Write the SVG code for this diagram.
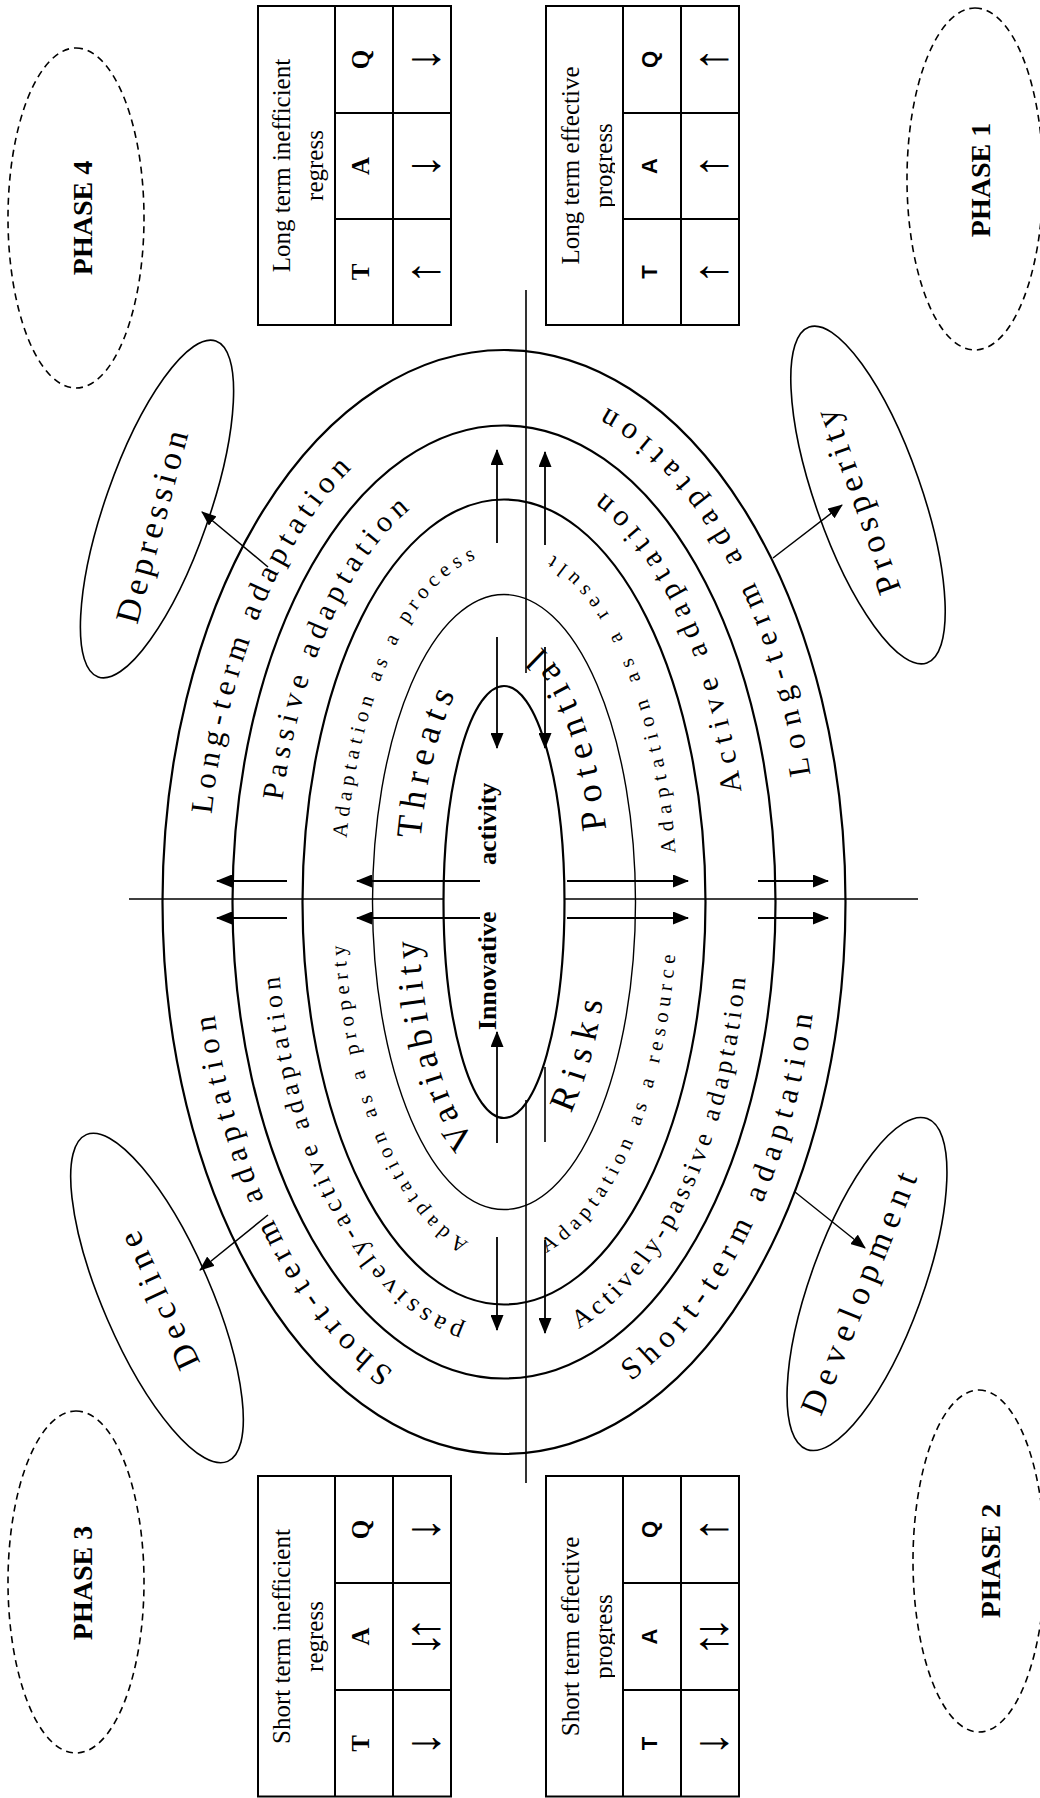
<svg xmlns="http://www.w3.org/2000/svg" width="1040" height="1798" viewBox="0 0 1040 1798">
<style>
.ring{fill:none;stroke:#000;stroke-width:2.2}
.thin{fill:none;stroke:#000;stroke-width:1.4}
.oval{fill:none;stroke:#000;stroke-width:1.6}
.phase{fill:none;stroke:#000;stroke-width:1.6;stroke-dasharray:7 5}
.ln{stroke:#000;stroke-width:1.6;fill:none}
.ar{stroke:#000;stroke-width:1.8;fill:none;marker-end:url(#ah)}
.ca{stroke:#000;stroke-width:1.5;fill:none;marker-end:url(#ah2)}
.tb{fill:none;stroke:#000;stroke-width:2}
.rt{font-family:"Liberation Serif",serif;fill:#000}
.big{font-family:"Liberation Serif",serif;font-size:34px;text-anchor:middle}
.pt{font-family:"Liberation Serif",serif;font-weight:bold;font-size:28px;text-anchor:middle}
.hd{font-family:"Liberation Serif",serif;font-size:25px;text-anchor:middle}
.ks{font-family:"Liberation Serif",serif;font-weight:bold;font-size:25px;text-anchor:middle}
.kss{font-family:"Liberation Sans",sans-serif;font-weight:bold;font-size:22px;text-anchor:middle}
.aw{font-family:"Liberation Serif","DejaVu Serif",serif;font-size:48px;text-anchor:middle}
.inn{font-family:"Liberation Serif",serif;font-weight:bold;font-size:26px}
</style>
<defs>
<marker id="ah" viewBox="0 0 16 13" refX="15" refY="6.5" markerWidth="16" markerHeight="13" markerUnits="userSpaceOnUse" orient="auto"><path d="M0,0 L16,6.5 L0,13 z"/></marker>
<marker id="ah2" viewBox="0 0 15 12" refX="14" refY="6" markerWidth="15" markerHeight="12" markerUnits="userSpaceOnUse" orient="auto"><path d="M0,0 L15,6 L0,12 z"/></marker>
<path id="pa" d="M983.7,211.5 A505,297 0 0 1 1383.8,427.1"/>
<path id="pb" d="M427.1,393.7 A505,297 0 0 1 940,208.1"/>
<path id="pc" d="M417.1,631 A523,316 0 0 0 850.4,818.8"/>
<path id="pd" d="M1023.4,810.5 A523,316 0 0 0 1417,531.6"/>
<path id="pe" d="M997.3,282.4 A431,228 0 0 1 1320.4,464.4"/>
<path id="pf" d="M471.6,464.4 A431,228 0 0 1 933.6,276.9"/>
<path id="pg" d="M469.2,578.5 A448,245 0 0 0 911.6,748.9"/>
<path id="ph" d="M1006.7,741.4 A448,245 0 0 0 1337.2,546.5"/>
<path id="pi" d="M960.1,346.7 A348.5,160 0 0 1 1243.2,518"/>
<path id="pj" d="M556,468.8 A348.5,160 0 0 1 926.4,344.6"/>
<path id="pk" d="M545.4,546.1 A361.5,173 0 0 0 908.6,676.9"/>
<path id="pl" d="M945.1,675.4 A361.5,173 0 0 0 1257.5,504"/>
<path id="pm" d="M959.1,420.7 A252,86 0 0 1 1132.8,474.6"/>
<path id="pn" d="M658,475.7 A252,86 0 0 1 918,418.3"/>
<path id="po" d="M684.6,570.7 A272,106 0 0 0 896,610"/>
<path id="pp" d="M968.7,606.1 A272,106 0 0 0 1167,513.2"/>
<clipPath id="c1"><rect x="1473" y="546" width="319" height="69"/></clipPath>
<clipPath id="c2"><rect x="1" y="546" width="321" height="69"/></clipPath>
</defs>
<g transform="translate(0,1798) rotate(-90)">
<g id="rings">
<ellipse class="ring" cx="896" cy="504" rx="552" ry="341.5"/>
<ellipse class="ring" cx="896" cy="504" rx="476.5" ry="271.5"/>
<ellipse class="ring" cx="896" cy="504" rx="402.5" ry="201.5"/>
<ellipse class="thin" cx="896" cy="504" rx="307.5" ry="131.5"/>
<ellipse class="ring" cx="896" cy="504" rx="216" ry="60.5"/>
</g>
<g id="ring-labels" class="rt">
<text font-size="31" letter-spacing="5.8"><textPath href="#pa">Long-term adaptation</textPath></text>
<text font-size="31" letter-spacing="6.9"><textPath href="#pb">Short-term adaptation</textPath></text>
<text font-size="31" letter-spacing="7.4"><textPath href="#pc">Short-term adaptation</textPath></text>
<text font-size="31" letter-spacing="8.6"><textPath href="#pd">Long-term adaptation</textPath></text>
<text font-size="30" letter-spacing="6"><textPath href="#pe">Passive adaptation</textPath></text>
<text font-size="26" letter-spacing="5.1"><textPath href="#pf">passively-active adaptation</textPath></text>
<text font-size="26" letter-spacing="4.3"><textPath href="#pg">Actively-passive adaptation</textPath></text>
<text font-size="30" letter-spacing="7.7"><textPath href="#ph">Active adaptation</textPath></text>
<text font-size="21" letter-spacing="5.5"><textPath href="#pi">Adaptation as a process</textPath></text>
<text font-size="21" letter-spacing="5.5"><textPath href="#pj">Adaptation as a property</textPath></text>
<text font-size="21" letter-spacing="5.6"><textPath href="#pk">Adaptation as a resource</textPath></text>
<text font-size="21" letter-spacing="7.1"><textPath href="#pl">Adaptation as a result</textPath></text>
<text font-size="36" letter-spacing="6.8"><textPath href="#pm">Threats</textPath></text>
<text font-size="36" letter-spacing="5.9"><textPath href="#pn">Variability</textPath></text>
<text font-size="36" letter-spacing="9.3"><textPath href="#po">Risks</textPath></text>
<text font-size="36" letter-spacing="8.6"><textPath href="#pp">Potential</textPath></text>
</g>
<g id="core">
<text class="inn" y="496"><tspan x="768">Innovative</tspan><tspan x="933">activity</tspan></text>
</g>
<g id="decline">
<ellipse class="oval" cx="0" cy="0" rx="178" ry="54" transform="translate(500,157) rotate(-23.4)"/>
<text class="big" letter-spacing="7" x="0" y="12" transform="translate(500,157) rotate(-25)">Decline</text>
</g>
<g id="development">
<ellipse class="oval" cx="0" cy="0" rx="176" ry="56" transform="translate(514,867) rotate(20)"/>
<text class="big" font-size="31" letter-spacing="7.5" x="-8" y="7" transform="translate(514,867) rotate(22)">Development</text>
</g>
<g id="depression">
<ellipse class="oval" cx="0" cy="0" rx="178" ry="52" transform="translate(1289,157) rotate(19.3)"/>
<text class="big" letter-spacing="5" x="-16" y="11" transform="translate(1289,157) rotate(15)">Depression</text>
</g>
<g id="prosperity">
<ellipse class="oval" cx="0" cy="0" rx="178" ry="53" transform="translate(1303,868) rotate(-19.3)"/>
<text class="big" letter-spacing="6" x="0" y="-1" transform="translate(1303,868) rotate(-20)">Prosperity</text>
</g>
<g id="phase4">
<ellipse class="phase" cx="1580" cy="76" rx="170" ry="68"/>
<text class="pt" x="1580" y="92">PHASE 4</text>
</g>
<g id="phase1">
<ellipse class="phase" cx="1619" cy="975" rx="171" ry="68"/>
<text class="pt" x="1618" y="990">PHASE 1</text>
</g>
<g id="phase3">
<ellipse class="phase" cx="216" cy="76" rx="171" ry="68"/>
<text class="pt" x="215" y="92">PHASE 3</text>
</g>
<g id="phase2">
<ellipse class="phase" cx="237" cy="979" rx="171" ry="66"/>
<text class="pt" x="237" y="1000">PHASE 2</text>
</g>
<g id="table4">
<rect class="tb" x="1473" y="258" width="319" height="193"/>
<path class="tb" d="M1473,335 H1792 M1473,393 H1792 M1579,335 V451 M1685,335 V451"/>
<text class="hd" x="1632.5" y="290">Long term inefficient</text>
<text class="hd" x="1632.5" y="323">regress</text>
<text class="ks" x="1526" y="369">T</text><text class="ks" x="1632" y="369">A</text><text class="ks" x="1738.5" y="369">Q</text>
<text class="aw" x="1526" y="439">↑</text><text class="aw" x="1632" y="439">↓</text><text class="aw" x="1738.5" y="439">↓</text>
</g>
<g id="table1">
<rect class="tb" x="1473" y="546" width="319" height="193"/>
<path class="tb" d="M1473,623 H1792 M1473,681 H1792 M1579,623 V739 M1685,623 V739"/>
<g clip-path="url(#c1)">
<text class="hd" x="1632.5" y="579">Long term effective</text>
<text class="hd" x="1632.5" y="612">progress</text>
</g>
<text class="kss" x="1526" y="657">T</text><text class="kss" x="1632" y="657">A</text><text class="kss" x="1738.5" y="657">Q</text>
<text class="aw" x="1526" y="727">↑</text><text class="aw" x="1632" y="727">↑</text><text class="aw" x="1738.5" y="727">↑</text>
</g>
<g id="table3">
<rect class="tb" x="1.5" y="258" width="320.5" height="193"/>
<path class="tb" d="M1.5,335 H322 M1.5,393 H322 M108,335 V451 M215,335 V451"/>
<text class="hd" x="161.5" y="290">Short term inefficient</text>
<text class="hd" x="161.5" y="323">regress</text>
<text class="ks" x="54.5" y="369">T</text><text class="ks" x="161.5" y="369">A</text><text class="ks" x="268.5" y="369">Q</text>
<text class="aw" x="54.5" y="439">↓</text><text class="aw" x="161.5" y="439"><tspan x="154">↓</tspan><tspan x="169">↑</tspan></text><text class="aw" x="268.5" y="439">↓</text>
</g>
<g id="table2">
<rect class="tb" x="1.5" y="546" width="320.5" height="193"/>
<path class="tb" d="M1.5,623 H322 M1.5,681 H322 M108,623 V739 M215,623 V739"/>
<g clip-path="url(#c2)">
<text class="hd" x="161.5" y="579">Short term effective</text>
<text class="hd" x="161.5" y="612">progress</text>
</g>
<text class="kss" x="54.5" y="657">T</text><text class="kss" x="161.5" y="657">A</text><text class="kss" x="268.5" y="657">Q</text>
<text class="aw" x="54.5" y="727">↓</text><text class="aw" x="161.5" y="727"><tspan x="154">↑</tspan><tspan x="169">↓</tspan></text><text class="aw" x="268.5" y="727">↑</text>
</g>
<g id="connectors">
<path class="ln" d="M899,129 V444 M899,565 V918 M315,526 H698 M1125,526 H1508 M656,545 H731"/>
<path class="ar" d="M1255,497 H1348"/>
<path class="ar" d="M1161,497 H1050"/>
<path class="ar" d="M655,497 H766"/>
<path class="ar" d="M561,497 H468"/>
<path class="ar" d="M1253,545 H1346"/>
<path class="ar" d="M1151,545 H1050"/>
<path class="ar" d="M558,545 H465"/>
<path class="ar" d="M917,480 V357"/>
<path class="ar" d="M917,287 V217"/>
<path class="ar" d="M917,567 V688"/>
<path class="ar" d="M917,758 V828"/>
<path class="ar" d="M880,480 V357"/>
<path class="ar" d="M880,287 V217"/>
<path class="ar" d="M880,567 V688"/>
<path class="ar" d="M880,758 V828"/>
<path class="ca" d="M1231,268 L1286,202"/>
<path class="ca" d="M1240,773 L1293,842"/>
<path class="ca" d="M583,268 L528,200"/>
<path class="ca" d="M606,795 L550,865"/>
</g>
</g>
</svg>
